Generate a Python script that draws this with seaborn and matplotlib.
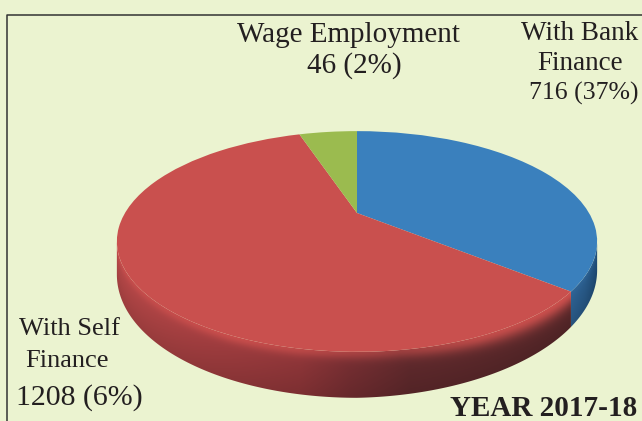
import numpy as np
import matplotlib
matplotlib.use("Agg")
import matplotlib.pyplot as plt
from matplotlib.colors import to_rgb
from matplotlib.patches import Polygon
from matplotlib.transforms import Transform
import seaborn as sns

# labels as printed on the chart
labels_wage = ["Wage Employment", "46 (2%)"]
labels_bank = ["With Bank", "Finance", "716 (37%)"]
labels_self = ["With Self", "Finance", "1208 (6%)"]
year_label = "YEAR 2017-18"

# slice sizes as drawn (percent of the circle)
slices = ["With Bank Finance", "With Self Finance", "Wage Employment"]
drawn_share = [36.0, 59.0, 5.0]

BG = "#ebf3d0"
INK = "#231f20"
top_colors = ["#3a80bd", "#c9504e", "#9bbb4f"]

# shape of the tilted disc, in pixels
W, H = 642, 421
cx, cy, sx, sy, k = 357, 213, 232, 103, 0.258
depth0 = 46


class TiltDisc(Transform):
    input_dims = 2
    output_dims = 2

    def transform_non_affine(self, values):
        values = np.asarray(values)
        d = 1 + k * values[:, 1]
        return np.c_[cx + sx * values[:, 0] / d, cy - sy * values[:, 1] / d]


def depth_at(t):
    return depth0 * (0.62 + 0.38 * np.abs(np.sin(t))) * (1 - 0.14 * np.clip(np.cos(t), 0, 1))


def side_image(stops, rim_stops, arc, glow_color):
    # colour of the disc wall per pixel, shaded along x and down from the rim
    order = np.argsort(arc[:, 0])
    xs = np.arange(W) + 0.5
    ys = np.arange(H) + 0.5
    rim_y = np.interp(xs, arc[order, 0], arc[order, 1])
    dep = np.interp(xs, arc[order, 0], arc[order, 2])
    stop_x = [s[0] for s in stops]
    base = np.stack([np.interp(xs, stop_x, [to_rgb(s[1])[i] for s in stops]) for i in range(3)], axis=1)
    glow = np.interp(xs, [r[0] for r in rim_stops], [r[1] for r in rim_stops])
    width = np.interp(xs, [r[0] for r in rim_stops], [r[2] for r in rim_stops])
    v = (ys[:, None] - rim_y[None, :]) / dep[None, :]
    img = base[None, :, :] * (1 - 0.16 * np.clip(v, 0, 1))[:, :, None]
    g = (glow[None, :] * np.exp(-(np.clip(v, 0, None) / width[None, :]) ** 2))[:, :, None]
    return np.clip(img * (1 - g) + np.array(to_rgb(glow_color)) * g, 0, 1)


sns.set_theme(style="white")
plt.rcParams["font.family"] = ["Liberation Serif", "DejaVu Serif"]

fig = plt.figure(figsize=(W / 100, H / 100), dpi=100, facecolor=BG)
ax = fig.add_axes([0, 0, 1, 1])
ax.set_facecolor(BG)

wedges, _ = ax.pie(drawn_share, colors=top_colors, startangle=90, counterclock=False,
                   wedgeprops={"linewidth": 0, "zorder": 3})
tilt = TiltDisc()
for w in wedges:
    w.set_transform(tilt + ax.transData)

# walls below the two front slices
sil_right = np.degrees(np.arcsin(-k))
sil_left = -180 - sil_right
blue_end = wedges[0].theta1
front = {0: (sil_right, blue_end),
         1: (blue_end, sil_left)}
wall_stops = {
    0: [(0, "#2f6496"), (570, "#2f6496"), (585, "#2a5d8d"), (600, "#1f4e7a")],
    1: [(117, "#bb4a4a"), (200, "#aa4143"), (300, "#94383b"), (350, "#7a3034"),
        (410, "#632b2e"), (580, "#5c2a2c")],
}
# x, strength and reach of the light band under the rim
rim_glow = {0: [(570, 0.1, 0.15), (600, 0.3, 0.15)],
            1: [(117, 0.5, 0.16), (230, 0.8, 0.16), (340, 0.55, 0.16), (400, 0.5, 0.18),
                (480, 0.85, 0.25), (570, 0.95, 0.35)]}
glow_colors = {0: "#3a75ab", 1: "#d2524f"}

for i, (a, b) in front.items():
    t = np.radians(np.linspace(a, b, 200))
    rim = tilt.transform_non_affine(np.c_[np.cos(t), np.sin(t)])
    dep = depth_at(t)
    lower = rim + np.c_[np.zeros_like(t), dep]
    img = side_image(wall_stops[i], rim_glow[i], np.c_[rim, dep], glow_colors[i])
    clip = Polygon(np.r_[rim, lower[::-1]], closed=True, transform=ax.transData, facecolor="none", edgecolor="none")
    ax.add_patch(clip)
    im = ax.imshow(img, extent=(0, W, H, 0), zorder=2, interpolation="bilinear")
    im.set_clip_path(clip)

# frame lines on the top and the left
ax.plot([7, 7, W], [H, 15, 15], color="#333333", lw=1.1, zorder=1)

for txt, x, y, fs in zip(labels_wage, [348, 354], [35, 66], [21, 21]):
    ax.text(x, y, txt, fontsize=fs, color=INK, ha="center", va="center")
for txt, x, y, fs in zip(labels_bank, [580, 580, 584], [33, 63, 93], [19.5, 19.5, 18.5]):
    ax.text(x, y, txt, fontsize=fs, color=INK, ha="center", va="center")
for txt, x, y, fs in zip(labels_self, [69, 67, 79], [329, 361, 398], [19, 19, 21.5]):
    ax.text(x, y, txt, fontsize=fs, color=INK, ha="center", va="center")
ax.text(637, 409, year_label, fontsize=21, fontweight="bold", color=INK, ha="right", va="center")

ax.set_aspect("auto")
ax.set_xlim(0, W)
ax.set_ylim(H, 0)
ax.axis("off")

fig.savefig("out.png", dpi=100, facecolor=BG)
